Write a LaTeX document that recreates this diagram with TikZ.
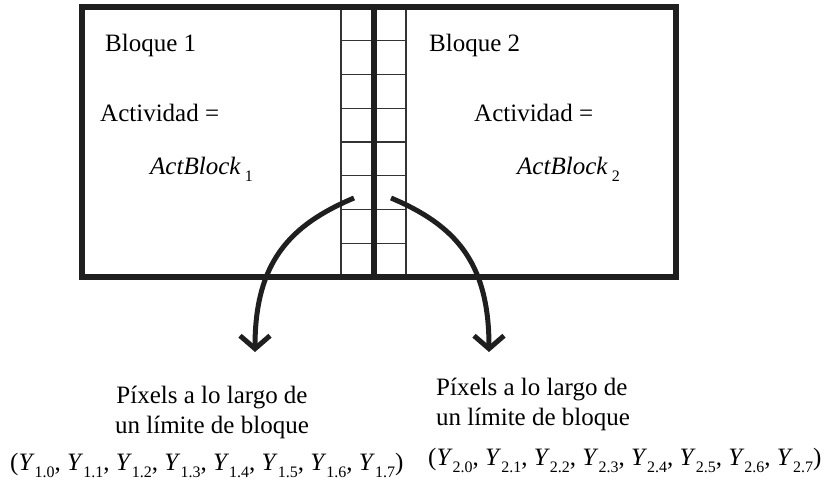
\documentclass[tikz,border=0pt]{standalone}
\usepackage{fontspec}
\setmainfont{Liberation Serif}
\usepackage{tikz}
\usetikzlibrary{
  arrows.meta,%
  calc,%
  positioning
}
\tikzset{>=latex}
\tikzset{texto/.style={inner sep=0pt, anchor=base west, font=\fontsize{25}{30}\selectfont}}
\tikzset{centro/.style={texto, anchor=base}}
\tikzset{borde/.style={line width=5.5pt, draw=black!88}}
\tikzset{rejilla/.style={line width=1.3pt, draw=black!80}}
\tikzset{flecha/.style={line width=5pt, draw=black!88, -{Straight Barb[length=13pt, width=30pt]}}}
\newcommand{\Ysub}[1]{\textit{Y}\raisebox{-7pt}{\fontsize{16}{16}\selectfont #1}}
\newcommand{\ActB}[1]{\textit{ActBlock}\,\raisebox{-7pt}{\fontsize{16}{16}\selectfont #1}}

\begin{document}
\begin{tikzpicture}[x=1pt, y=1pt]
      \useasboundingbox (0, 0) rectangle (824, 490);
      % pixels a ambos lados del limite
      \foreach \k in {1,...,7} {
        \draw[rejilla] (341, 213+\k*33.75) -- (406, 213+\k*33.75);
      }
      \draw[rejilla] (341, 213) -- (341, 483);
      \draw[rejilla] (406, 213) -- (406, 483);
      % bloques
      \draw[borde] (82, 213) rectangle (676, 483);
      \draw[borde] (374, 213) -- (374, 483);
      \node[texto] (bloq1) at (105, 438) {Bloque 1};
      \node[texto] (act1) at (100, 368) {Actividad =};
      \node[texto] (actb1) at (150, 315) {\ActB{1}};
      \node[texto] (bloq2) at (429, 438) {Bloque 2};
      \node[texto] (act2) at (474, 368) {Actividad =};
      \node[texto] (actb2) at (517, 315) {\ActB{2}};
      % etiquetas de abajo
      \node[centro] (pixA) at (212, 87) {Píxels a lo largo de};
      \node[centro] (limA) at (212, 57) {un límite de bloque};
      \node[texto] (tupA) at (10, 20) {(\Ysub{1.0}, \Ysub{1.1}, \Ysub{1.2}, \Ysub{1.3}, \Ysub{1.4}, \Ysub{1.5}, \Ysub{1.6}, \Ysub{1.7})};
      \node[texto] (pixB) at (436, 95) {Píxels a lo largo de};
      \node[texto] (limB) at (436, 65) {un límite de bloque};
      \node[texto] (tupB) at (428, 25) {(\Ysub{2.0}, \Ysub{2.1}, \Ysub{2.2}, \Ysub{2.3}, \Ysub{2.4}, \Ysub{2.5}, \Ysub{2.6}, \Ysub{2.7})};
      % flechas
      \coordinate (iniA) at (354, 292);
      \coordinate (finA) at (255, 138);
      \coordinate (iniB) at (391, 292);
      \coordinate (finB) at (489, 138);
      \draw[flecha] (iniA) .. controls (290, 265) and (255, 228) .. (finA);
      \draw[flecha] (iniB) .. controls (455, 265) and (489, 228) .. (finB);
    \end{tikzpicture}
\end{document}
